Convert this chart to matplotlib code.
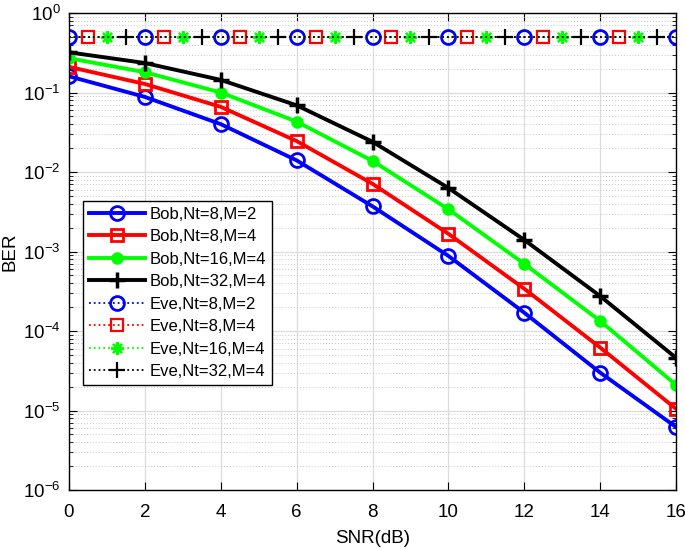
import numpy as np
import matplotlib
matplotlib.use("Agg")
import matplotlib.pyplot as plt
from matplotlib.ticker import LogLocator, NullFormatter

plt.rcParams["font.family"] = ["Liberation Sans", "DejaVu Sans"]

snr = [0, 2, 4, 6, 8, 10, 12, 14, 16]
bob_8_2 = [0.16, 0.088, 0.040, 0.014, 0.0037, 8.8e-4, 1.7e-4, 3.0e-5, 6.2e-6]
bob_8_4 = [0.21, 0.128, 0.066, 0.0245, 0.0071, 1.67e-3, 3.4e-4, 6.2e-5, 1.05e-5]
bob_16_4 = [0.27, 0.18, 0.10, 0.043, 0.0138, 3.4e-3, 7.0e-4, 1.34e-4, 2.1e-5]
bob_32_4 = [0.32, 0.235, 0.144, 0.069, 0.024, 6.3e-3, 1.4e-3, 2.75e-4, 4.6e-5]

snr_eve = np.arange(0, 16.5, 0.5)
eve_ber = [0.5] * len(snr_eve)

ber_ticks = [1e-6, 1e-5, 1e-4, 1e-3, 1e-2, 1e-1, 1]

labels_bob = ["Bob,Nt=8,M=2", "Bob,Nt=8,M=4", "Bob,Nt=16,M=4", "Bob,Nt=32,M=4"]
labels_eve = ["Eve,Nt=8,M=2", "Eve,Nt=8,M=4", "Eve,Nt=16,M=4", "Eve,Nt=32,M=4"]

colors = ["#0000ff", "#ff0000", "#00ff00", "#000000"]

fig = plt.figure(figsize=(6.85, 5.49), dpi=100)
ax = fig.add_axes([69 / 685, 1 - 490 / 549, 607 / 685, 477 / 549])

bob_style = [
    dict(marker="o", ms=10, mfc="none", mew=2),
    dict(marker="s", ms=8.5, mfc="none", mew=2),
    dict(marker="o", ms=8, mfc=colors[2], mew=1),
    dict(marker="+", ms=11, mew=2.5),
]
for y, lab, c, st in zip([bob_8_2, bob_8_4, bob_16_4, bob_32_4], labels_bob, colors, bob_style):
    ax.semilogy(snr, y, color=c, lw=2.8, label=lab, **st)

# MATLAB-like asterisk for the third Eve curve
eve_style = [
    dict(marker="o", ms=10, mfc="none", mew=2),
    dict(marker="s", ms=8, mfc="none", mew=1.6),
    dict(marker=(8, 2, 0), ms=9, mew=1.6),
    dict(marker="+", ms=11, mew=1.6),
]
for k, (lab, c, st) in enumerate(zip(labels_eve, colors, eve_style)):
    ax.semilogy(snr_eve, eve_ber, color=c, lw=1.3, ls=":", label=lab,
                markevery=(k, 4), **st)

ax.set_xlim(0, 16)
ax.set_ylim(1e-6, 1)
ax.set_xticks(snr)
ax.set_yticks(ber_ticks)
ax.yaxis.set_minor_locator(LogLocator(base=10, subs=np.arange(2, 10), numticks=20))
ax.yaxis.set_minor_formatter(NullFormatter())
ax.set_ylim(1e-6, 1)

ax.grid(True, which="major", color="#dcdcdc", lw=0.9, ls="-")
ax.grid(True, which="minor", axis="y", color="#c8c8c8", lw=0.7, ls=(0, (1, 2)))
ax.set_axisbelow(True)

ax.tick_params(which="both", direction="in", top=True, right=True, labelsize=13.5)
ax.tick_params(axis="x", pad=10)
ax.tick_params(axis="y", pad=6)
ax.tick_params(which="major", length=6)
ax.tick_params(which="minor", length=3)
for sp in ax.spines.values():
    sp.set_linewidth(1.0)

ax.set_xlabel("SNR(dB)", fontsize=13.5)
ax.set_ylabel("BER", fontsize=13.5)
ax.xaxis.set_label_coords(0.5, -0.083)
ax.yaxis.set_label_coords(-0.084, 0.5)

leg = ax.legend(loc="upper left", bbox_to_anchor=(0.023, 0.606), borderaxespad=0,
                fontsize=12, frameon=True, fancybox=False, edgecolor="black",
                framealpha=1, handlelength=3.35, borderpad=0.35, labelspacing=0.45,
                handletextpad=0.3)
leg.get_frame().set_linewidth(1.0)

fig.savefig("out.png", dpi=100)
